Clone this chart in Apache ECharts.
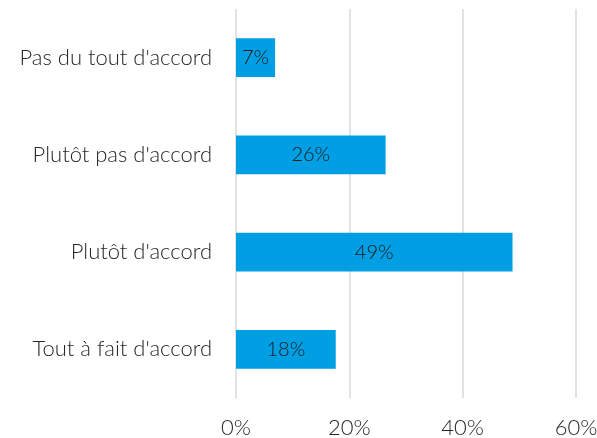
<!DOCTYPE html>
<html>
<head>
<meta charset="utf-8">
<style>
  html, body { margin: 0; padding: 0; background: #fff; }
  #main { width: 597px; height: 438px; }
</style>
<script src="https://cdn.jsdelivr.net/npm/echarts@6/dist/echarts.min.js"></script>
</head>
<body>
<div id="main"></div>
<script>
// catégories de haut en bas
var categories = ["Pas du tout d'accord", "Plutôt pas d'accord", "Plutôt d'accord", "Tout à fait d'accord"]
var values = [6.9, 26.4, 48.8, 17.6]
var xTicks = [0, 20, 40, 60]

var fontFamily = 'Lato'
var myChart = echarts.init(document.getElementById('main'))
myChart.setOption({
  animation: false,
  grid: {
    left: 236,
    right: 21,
    top: 9,
    bottom: 40,
    containLabel: false,
    outerBoundsMode: 'none'
  },
  xAxis: {
    type: 'value',
    min: xTicks[0],
    max: xTicks[xTicks.length - 1],
    interval: 20,
    axisLine: { show: false },
    axisTick: { show: false },
    splitLine: {
      lineStyle: { color: '#d9d9d9', width: 1.5 }
    },
    axisLabel: {
      margin: 19,
      color: '#262626',
      fontFamily: fontFamily,
      fontWeight: 300,
      fontSize: 22,
      formatter: function(v) { return v + '%' }
    }
  },
  yAxis: {
    type: 'category',
    inverse: true,
    data: categories,
    axisLine: { show: false },
    axisTick: { show: false },
    axisLabel: {
      margin: 24,
      color: '#262626',
      fontFamily: fontFamily,
      fontWeight: 300,
      fontSize: 22
    }
  },
  series: [{
    type: 'bar',
    data: values,
    barWidth: '40%',
    itemStyle: { color: '#009fe3' },
    label: {
      show: true,
      position: 'inside',
      color: '#1a1a1a',
      fontFamily: fontFamily,
      fontWeight: 300,
      fontSize: 20,
      formatter: function(p) { return Math.round(p.value) + '%' }
    }
  }]
})
window.addEventListener('resize', function() {
  myChart.resize()
})
</script>
</body>
</html>
